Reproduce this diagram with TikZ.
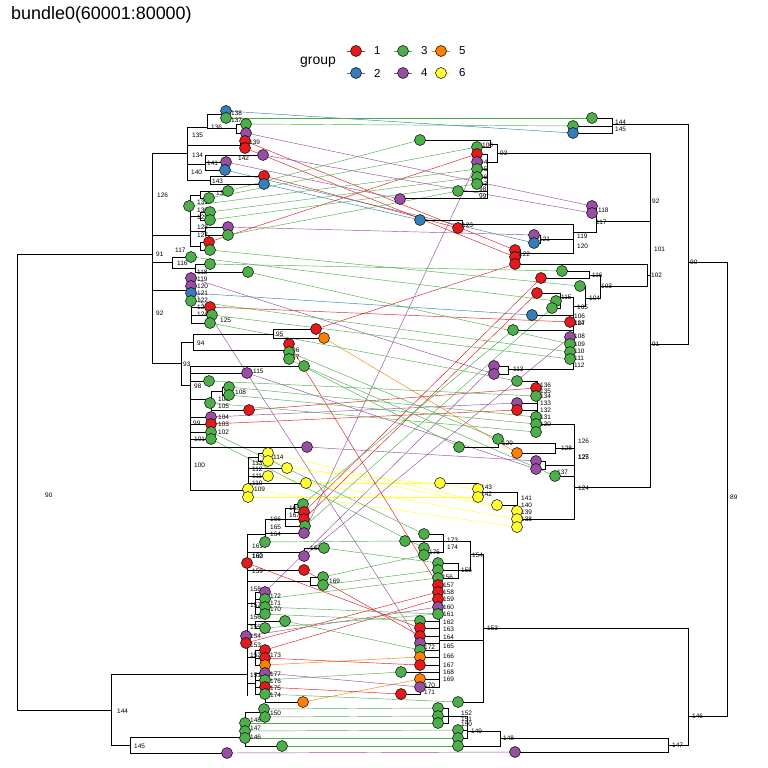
\documentclass[tikz,border=0pt]{standalone}
\usepackage{fontspec}
\setmainfont{Liberation Sans}
\definecolor{gred}{HTML}{E41A1C}
\definecolor{gblue}{HTML}{377EB8}
\definecolor{ggreen}{HTML}{4DAF4A}
\definecolor{gpurple}{HTML}{984EA3}
\definecolor{gorange}{HTML}{FF7F00}
\definecolor{gyellow}{HTML}{FFFF33}
\newcommand{\lefttips}{1/226/111/gblue, 2/226/118/ggreen, 3/246/124/ggreen, 4/246/133/gpurple, 5/245/141/gred, 6/245/148/gred, 7/263/155/gpurple, 8/226/162/gpurple, 9/225/170/gblue, 10/264/176/gred, 11/264/184/gblue, 12/228/191/ggreen, 13/209/198/ggreen, 14/189/206/ggreen, 15/210/212/ggreen, 16/210/220/ggreen, 17/228/227/gpurple, 18/228/235/ggreen, 19/209/242/gred, 20/210/250/ggreen, 21/191/257/ggreen, 22/210/264/ggreen, 23/248/272/ggreen, 24/191/278/gpurple, 25/191/286/gpurple, 26/191/293/gblue, 27/191/301/ggreen, 28/210/307/gred, 29/212/315/ggreen, 30/210/323/ggreen, 31/316/329/gred, 32/324/338/gorange, 33/289/344/gred, 34/289/352/ggreen, 35/289/359/ggreen, 36/304/366/ggreen, 37/247/373/gpurple, 38/209/381/ggreen, 39/229/387/ggreen, 40/229/395/ggreen, 41/210/403/ggreen, 42/249/410/gred, 43/211/417/gpurple, 44/211/424/gred, 45/211/432/ggreen, 46/211/439/ggreen, 47/307/447/gpurple, 48/268/453/gyellow, 49/268/461/gyellow, 50/287/468/gyellow, 51/268/476/gyellow, 52/306/483/gyellow, 53/248/489/gyellow, 54/248/497/gyellow, 55/303/504/ggreen, 56/304/512/gred, 57/304/519/gred, 58/305/526/ggreen, 59/304/533/gpurple, 60/265/542/ggreen, 61/324/548/ggreen, 62/304/556/gpurple, 63/247/563/gred, 64/304/570/gred, 65/323/577/ggreen, 66/323/585/ggreen, 67/265/592/gpurple, 68/265/599/ggreen, 69/265/607/ggreen, 70/265/614/ggreen, 71/285/621/ggreen, 72/265/628/ggreen, 73/246/636/gpurple, 74/246/643/gred, 75/265/650/gred, 76/265/658/gred, 77/265/665/gorange, 78/265/673/gpurple, 79/265/680/ggreen, 80/265/687/gred, 81/265/694/ggreen, 82/303/702/gorange, 83/264/709/ggreen, 84/265/717/ggreen, 85/245/723/ggreen, 86/245/731/ggreen, 87/245/738/ggreen, 88/282/746/ggreen, 89/227/753/gpurple}
\newcommand{\righttips}{1/592/118/ggreen, 2/573/126/ggreen, 3/573/133/gblue, 4/420/140/ggreen, 5/477/147/ggreen, 6/477/154/gred, 7/477/162/gpurple, 8/477/169/ggreen, 9/477/177/ggreen, 10/477/184/ggreen, 11/458/191/ggreen, 12/400/199/gpurple, 13/592/206/gpurple, 14/592/213/gpurple, 15/420/220/gblue, 16/458/228/gred, 17/534/235/gpurple, 18/534/243/gblue, 19/515/250/gred, 20/515/257/gred, 21/515/264/gred, 22/562/271/ggreen, 23/541/278/gred, 24/580/286/ggreen, 25/537/293/gred, 26/556/301/ggreen, 27/552/308/ggreen, 28/532/315/gblue, 29/570/322/gred, 30/513/330/ggreen, 31/570/337/gpurple, 32/570/344/ggreen, 33/570/352/ggreen, 34/570/359/ggreen, 35/494/366/gpurple, 36/494/374/gpurple, 37/517/381/ggreen, 38/536/388/gred, 39/536/396/ggreen, 40/517/403/gpurple, 41/517/410/gred, 42/536/417/ggreen, 43/536/424/ggreen, 44/536/432/ggreen, 45/498/439/ggreen, 46/459/447/ggreen, 47/517/453/gorange, 48/536/461/gpurple, 49/536/469/gpurple, 50/555/476/ggreen, 51/440/483/gyellow, 52/478/489/gyellow, 53/478/497/gyellow, 54/497/505/gyellow, 55/517/511/gyellow, 56/517/519/gyellow, 57/517/527/gyellow, 58/424/534/ggreen, 59/405/541/ggreen, 60/424/548/ggreen, 61/424/555/ggreen, 62/438/563/ggreen, 63/438/570/ggreen, 64/438/578/ggreen, 65/438/585/gred, 66/438/592/gred, 67/438/599/gred, 68/438/607/gpurple, 69/438/614/ggreen, 70/420/621/ggreen, 71/420/628/gred, 72/420/636/gred, 73/420/643/gpurple, 74/420/650/ggreen, 75/420/657/gorange, 76/420/665/gred, 77/401/672/ggreen, 78/420/679/gorange, 79/420/687/gpurple, 80/401/694/gred, 81/458/702/ggreen, 82/438/708/ggreen, 83/438/716/ggreen, 84/438/723/ggreen, 85/458/730/ggreen, 86/458/738/ggreen, 87/458/746/ggreen, 88/515/752/gpurple}
\begin{document}
\begin{tikzpicture}[x=1bp,y=-1bp,
  tip/.style={circle,draw=black,line width=0.5bp,minimum size=11bp,inner sep=0pt},
  edge/.style={black,line width=1bp,line cap=rect},
  link/.style={line width=0.45bp},
  lab/.style={anchor=west,inner sep=0pt,font=\fontsize{6.5}{7}\selectfont,text=black}]
\fill [white] (0,0) rectangle (768,768);
\useasboundingbox (0,0) rectangle (768,768);
\node [anchor=west,inner sep=0pt,font=\fontsize{18}{20}\selectfont] (title) at (11,15) {bundle0(60001:80000)};
\node [inner sep=0pt,font=\fontsize{14}{16}\selectfont] (grouptitle) at (318,62) {group};
\foreach \c/\t/\x/\y in {gred/1/356/51, gblue/2/356/73, ggreen/3/403/51, gpurple/4/403/73, gorange/5/441/51, gyellow/6/441/73} {
  \draw [link,\c,line width=0.7bp] (\x-9,\y) -- (\x+9,\y);
  \node [tip,fill=\c] (key\t) at (\x,\y) {};
  \node [anchor=west,inner sep=0pt,font=\fontsize{11.5}{13}\selectfont] (keytext\t) at (\x+18,\y) {\t};
}
\foreach \i/\x/\y/\c in \lefttips \coordinate (L\i) at (\x,\y);
\foreach \i/\x/\y/\c in \righttips \coordinate (R\i) at (\x,\y);
\foreach \a/\b/\c in {1/3/gblue, 9/18/gblue, 11/15/gblue, 26/28/gblue,
  32/47/gorange, 77/75/gorange, 82/78/gorange,
  48/54/gyellow, 49/55/gyellow, 50/52/gyellow, 51/56/gyellow, 52/51/gyellow, 53/57/gyellow, 54/53/gyellow,
  5/19/gred, 6/20/gred, 10/16/gred, 19/6/gred, 28/29/gred, 31/21/gred, 33/65/gred, 42/38/gred, 44/41/gred, 56/23/gred, 57/25/gred, 63/71/gred, 64/72/gred, 74/66/gred, 75/67/gred, 76/76/gred, 80/80/gred,
  4/13/gpurple, 7/14/gpurple, 8/12/gpurple, 17/17/gpurple, 24/36/gpurple, 25/73/gpurple, 37/49/gpurple, 43/40/gpurple, 47/48/gpurple, 59/7/gpurple, 62/31/gpurple, 67/35/gpurple, 73/68/gpurple, 78/79/gpurple, 89/88/gpurple,
  2/1/ggreen, 3/2/ggreen, 12/4/ggreen, 13/5/ggreen, 14/8/ggreen, 15/9/ggreen, 16/10/ggreen, 18/11/ggreen, 20/24/ggreen, 21/26/ggreen, 22/22/ggreen, 23/32/ggreen, 27/33/ggreen, 29/34/ggreen, 30/37/ggreen, 34/45/ggreen, 35/46/ggreen, 36/50/ggreen, 38/39/ggreen, 39/42/ggreen, 40/43/ggreen, 41/44/ggreen, 55/30/ggreen, 58/27/ggreen,
  45/58/ggreen, 46/60/ggreen, 60/59/ggreen, 61/62/ggreen, 65/61/ggreen, 66/63/ggreen, 68/64/ggreen, 69/69/ggreen, 70/70/ggreen, 71/74/ggreen, 72/69/ggreen, 79/77/ggreen, 81/81/ggreen, 83/82/ggreen, 84/83/ggreen, 85/84/ggreen, 86/85/ggreen, 87/86/ggreen, 88/87/ggreen}
  \draw [link,\c] (L\a) -- (R\b);
\foreach \xa/\xb/\yy in {17/152/254, 17/111/710, 152/187/153, 187/207/127, 207/222/114, 222/226/111, 222/226/118, 207/236/128, 236/246/124, 236/246/133, 187/240/145, 240/245/141, 240/245/148, 187/205/164, 205/263/155, 205/226/162, 205/225/170, 187/210/180, 210/264/176, 210/264/184,
  152/190/235, 190/200/195, 200/228/191, 200/209/198, 190/200/216, 200/210/212, 200/210/220, 190/205/231, 205/228/227, 205/228/235, 190/200/246, 200/209/242, 200/210/250,
  152/172/262, 172/191/257, 172/195/268, 195/210/264, 195/248/272,
  152/191/290, 191/210/307, 191/212/315, 191/210/323,
  152/181/363, 181/193/342, 193/273/334, 273/316/329, 273/324/338, 193/287/350,
  181/190/385, 190/304/366, 190/247/373, 190/209/381, 190/211/399, 211/222/391, 222/229/387, 222/229/395, 211/249/410, 190/211/417, 190/211/424, 190/211/432, 190/211/439, 190/307/447, 190/248/490, 248/258/457, 258/268/453, 258/268/461, 248/287/468, 248/268/476, 248/306/483,
  111/247/674, 111/130/745, 130/227/753, 130/245/737, 245/264/712, 245/282/746,
  247/265/534, 265/285/519, 285/294/508, 294/303/504, 294/304/512, 285/304/519, 285/305/526, 265/304/533,
  247/304/552, 304/324/548, 247/304/570, 247/310/581, 310/323/577, 310/323/585,
  247/255/603, 255/265/592, 255/265/599, 255/265/607, 255/265/614,
  247/255/624, 255/285/621, 255/265/628,
  247/255/657, 255/265/650, 255/265/658, 255/265/665,
  247/255/683, 255/265/673, 255/265/680, 255/265/687, 255/265/694, 265/303/702,
  688/727/262, 688/727/716, 612/688/124, 592/612/118, 573/612/126, 573/612/133, 650/688/344,
  497/650/153, 490/497/144, 420/490/140, 477/490/147, 487/497/162, 477/487/154, 477/487/169, 477/487/177, 477/487/184, 458/487/191, 400/487/198,
  596/650/221, 592/596/206, 592/596/213, 573/596/232, 462/573/224, 420/462/220, 458/462/228, 540/573/239, 534/540/235, 534/540/243, 520/573/253, 515/520/250, 515/520/257,
  647/650/275, 515/647/264, 600/647/286, 589/600/275, 562/589/271, 541/589/278, 585/600/298, 580/585/286, 573/585/306, 560/573/297, 537/560/293, 556/560/301, 552/560/308, 532/573/315, 570/573/322, 513/573/330, 570/573/337, 570/573/344, 570/573/352, 570/573/359, 508/573/369, 494/508/366, 494/508/374,
  574/650/487, 537/574/424, 517/537/381, 517/537/403, 517/537/410, 555/574/448, 498/555/443, 459/498/447, 517/555/453, 545/574/465, 536/545/461, 536/545/469, 555/574/476, 517/574/519, 478/517/492, 440/478/483, 497/517/505,
  483/688/628, 470/483/554, 443/470/541, 424/443/534, 405/443/541, 424/443/552, 458/470/570, 438/458/563, 438/458/570, 438/458/578,
  439/483/640, 420/439/621, 420/439/628, 420/439/636, 420/439/643, 420/439/650, 420/439/657, 420/439/665, 401/439/672, 420/439/679, 420/439/687, 401/420/694, 458/483/702,
  668/688/745, 515/668/752, 500/668/738, 467/500/731, 458/500/746, 448/467/716, 438/448/708, 438/448/716, 438/448/723, 458/467/730, 458/467/738}
  \draw [edge] (\xa,\yy) -- (\xb,\yy);
\foreach \xx/\ya/\yb in {17/254/710, 152/153/363, 187/127/180, 207/114/128, 222/111/118, 236/124/133, 240/141/148, 205/155/170, 210/176/184,
  190/195/246, 200/191/198, 200/212/220, 205/227/235, 200/242/250,
  172/257/268, 195/264/272, 191/278/323,
  181/342/385, 193/334/350, 273/329/338, 287/344/359,
  190/366/490, 211/391/410, 222/387/395, 248/457/497, 258/453/461,
  111/674/745, 130/737/753, 245/712/746, 264/709/717,
  247/534/695, 265/519/542, 285/508/526, 294/504/512, 304/548/556, 310/577/585, 255/592/614, 255/621/628, 255/650/665, 255/673/694, 265/694/702,
  727/262/716, 688/124/344, 612/118/133, 650/153/487, 497/144/162, 490/140/147, 487/154/198,
  596/206/232, 573/224/253, 462/220/228, 540/235/243, 520/250/257,
  647/264/286, 600/275/298, 589/271/278, 585/286/306, 573/297/369, 560/293/308, 508/366/374,
  574/424/519, 537/381/432, 555/443/453, 498/439/447, 545/461/469, 517/492/527, 478/483/497,
  688/628/745, 483/554/702, 470/541/570, 443/534/552, 424/548/555, 458/563/578, 439/585/687, 420/687/694,
  668/738/752, 500/731/746, 467/716/738, 448/708/723}
  \draw [edge] (\xx,\ya) -- (\xx,\yb);
\foreach \t/\x/\y [count=\k] in {138/231/113, 137/231/120, 136/211/127, 135/192/135, 139/249/142, 134/192/155, 142/238/158, 141/207/163, 140/191/172, 143/212/181, 126/157/195, 133/216/193, 131/197/202, 130/197/210, 129/197/217, 128/197/227, 127/197/235, 91/156/254, 117/175/250, 116/177/263, 118/197/272, 119/197/279, 120/197/286, 121/197/293, 122/197/300, 123/197/307, 124/197/314, 125/220/320, 92/156/313, 95/276/334, 94/197/343, 96/292/350, 97/292/357, 93/183/364, 115/253/371, 98/194/386, 108/235/392, 106/218/399, 105/218/406, 104/218/417, 103/218/424, 102/218/432, 101/194/439, 99/193/423, 114/273/457, 113/252/463, 112/252/469, 111/252/476, 110/252/483, 109/254/489, 100/194/465, 168/289/508, 167/289/515, 166/270/519, 165/270/527, 164/270/534, 161/252/546, 162/252/556, 160/252/556, 163/310/548, 159/252/571, 169/329/581, 158/250/589, 172/270/596, 171/270/603, 170/270/609, 157/250/605, 156/250/617, 155/250/627, 154/250/636, 153/250/645, 152/250/655, 173/270/655, 151/250/675, 177/270/674, 176/270/681, 175/270/688, 174/270/695, 150/270/713, 148/250/720, 147/250/728, 146/250/737, 144/117/711, 145/134/746, 90/45/495}
  \node [lab] (lefttext\k) at (\x,\y) {\t};
\foreach \t/\x/\y [count=\k] in {144/615/122, 145/615/129, 100/482/145, 93/500/153, 94/480/162, 95/480/169, 96/480/177, 97/480/184, 98/479/189, 99/479/196, 92/652/201, 118/598/210, 117/596/222, 123/462/225, 119/577/236, 121/539/239, 120/577/246, 101/654/249, 122/519/254, 102/651/275, 116/592/275, 103/601/286, 104/589/298, 115/561/297, 105/577/307, 106/574/316, 107/574/323, 114/574/323, 108/574/336, 109/574/344, 110/574/351, 111/574/358, 112/574/365, 113/513/369, 91/652/344, 136/540/385, 135/540/391, 134/540/396, 133/540/403, 132/540/410, 131/540/417, 130/540/424, 126/578/441, 129/502/443, 128/561/448, 125/578/457, 127/578/457, 137/557/472, 124/578/488, 143/481/487, 142/481/494, 141/521/498, 140/521/505, 139/521/512, 138/521/519, 173/447/540, 174/447/547, 175/429/552, 154/472/555, 155/461/570, 156/442/577, 157/443/585, 158/443/592, 159/443/599, 160/443/607, 161/443/614, 162/443/622, 163/443/629, 164/443/637, 172/424/647, 165/443/646, 166/443/656, 167/443/665, 168/443/672, 169/443/679, 153/487/628, 170/424/685, 171/424/692, 152/461/713, 151/461/719, 150/461/724, 149/471/731, 148/503/738, 147/672/745, 146/692/716, 90/690/262, 89/730/497}
  \node [lab] (righttext\k) at (\x,\y) {\t};
\foreach \i/\x/\y/\c in \lefttips \node [tip,fill=\c] (leftdot\i) at (L\i) {};
\foreach \i/\x/\y/\c in \righttips \node [tip,fill=\c] (rightdot\i) at (R\i) {};
\end{tikzpicture}
\end{document}
